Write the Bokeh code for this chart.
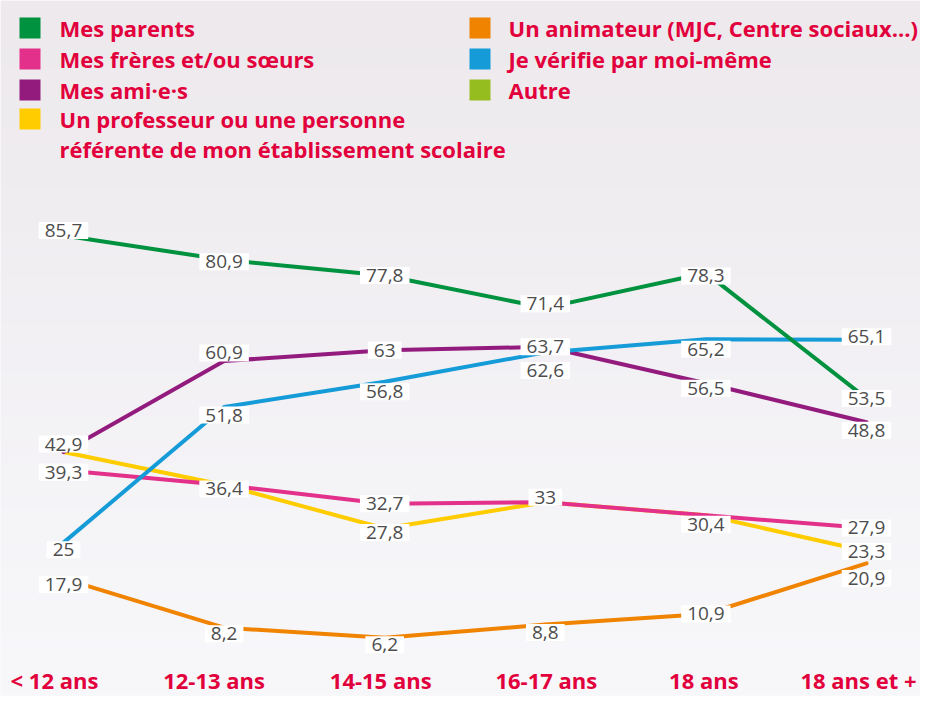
import numpy as np
from bokeh.plotting import figure
from bokeh.models import Range1d, ColumnDataSource
from bokeh.core.properties import value
from bokeh.embed import file_html
from bokeh.resources import INLINE

# ---------------- data ----------------
categories = ["< 12 ans", "12-13 ans", "14-15 ans", "16-17 ans", "18 ans", "18 ans et +"]

parents = [85.7, 80.9, 77.8, 71.4, 78.3, 53.5]
freres_soeurs = [39.3, 36.4, 32.7, 33.0, 30.4, 27.9]
amis = [42.9, 60.9, 63.0, 63.7, 56.5, 48.8]
professeur = [42.9, 36.4, 27.8, 33.0, 30.4, 23.3]
animateur = [17.9, 8.2, 6.2, 8.8, 10.9, 20.9]
moi_meme = [25.0, 51.8, 56.8, 62.6, 65.2, 65.1]
autre = []  # no values drawn in the chart

series_names = [
    "Mes parents",
    "Mes frères et/ou sœurs",
    "Mes ami·e·s",
    "Un professeur ou une personne\nréférente de mon établissement scolaire",
    "Un animateur (MJC, Centre sociaux...)",
    "Je vérifie par moi-même",
    "Autre",
]
series_values = [parents, freres_soeurs, amis, professeur, animateur, moi_meme, autre]

# ---------------- styles ----------------
colors = ["#00923f", "#e3308a", "#931b7e", "#ffcc00", "#f08300", "#159bd7", "#95bd1f"]
# which points carry a value label (shared values are labelled once)
label_shown = [
    [1, 1, 1, 1, 1, 1],
    [1, 1, 1, 1, 1, 1],
    [1, 1, 1, 1, 1, 1],
    [0, 0, 1, 0, 0, 1],
    [1, 1, 1, 1, 1, 1],
    [1, 1, 1, 1, 1, 1],
    [],
]
# vertical nudge of the value labels (screen px, down positive)
label_dy = [
    [-5, 2, 0, -4, 3, 0],
    [2, 4, 0, -5, 9, 0],
    [-8, -8, 0, 0, 5, 8],
    [0, 0, 4, 0, 0, 0],
    [6, 6, 7, 8, 0, 15],
    [7, 8, 10, 18, 10, -3],
    [],
]
draw_order = [4, 3, 1, 2, 5, 0]

RED = "#e2003c"
W, H = 920, 696
XS, X0 = 160.6, 63.0      # px per category, px of first category
YS, YREF, VREF = 5.06, 235.0, 85.7   # px per unit, px row of reference value


def fx(px):
    return (px - X0) / XS


def fy(py):
    return VREF + (YREF - py) / YS


p = figure(
    width=W, height=H,
    x_range=Range1d(fx(0), fx(W)), y_range=Range1d(fy(H), fy(0)),
    output_backend="svg", toolbar_location=None,
    x_axis_location=None, y_axis_location=None,
    min_border=0,
)
p.grid.visible = False
p.outline_line_color = None
p.background_fill_color = "#f8f8fb"
p.border_fill_color = "#f8f8fb"

# background gradient
N = 256
img = np.empty((N, 1), dtype=np.uint32)
view = img.view(dtype=np.uint8).reshape((N, 1, 4))
top = np.array([237, 233, 237])
bot = np.array([248, 248, 251])
for i in range(N):
    t = i / (N - 1)
    c = bot + (top - bot) * t
    view[i, 0, 0:3] = c.astype(np.uint8)
    view[i, 0, 3] = 255
p.image_rgba(image=[img], x=fx(0), y=fy(H), dw=fx(W) - fx(0), dh=fy(0) - fy(H))

xs = list(range(len(categories)))

# lines
for k in draw_order:
    p.line(xs, series_values[k], line_color=colors[k], line_width=4,
           line_join="round", line_cap="round")

# value labels
lx, ly, lt, ldy = [], [], [], []
for k in range(len(series_values)):
    for i, v in enumerate(series_values[k]):
        if label_shown[k][i]:
            lx.append(i)
            ly.append(v)
            s = ("%.1f" % v).replace(".", ",")
            if s.endswith(",0"):
                s = s[:-2]
            lt.append(s)
            ldy.append(label_dy[k][i])
src = ColumnDataSource(dict(x=lx, y=ly, text=lt, dy=ldy))
p.text(x="x", y="y", text="text", y_offset="dy", source=src,
       text_font=value("Open Sans"), text_font_size="19px", text_color="#4d4d4d",
       text_align="center", text_baseline="middle",
       background_fill_color="white", padding=dict(x=6, y=2))

# category labels
cat_dx = [-9, -10, -4, 1, -2, -8]
p.text(x=xs, y=[fy(679)] * len(xs), text=categories, x_offset=cat_dx,
       text_font=value("Open Sans"), text_font_size="22px", text_font_style="bold",
       text_color=RED, text_align="center", text_baseline="middle")

# legend
leg_sq_x = [29.5, 29.5, 29.5, 29.5, 479.5, 479.5, 479.5]
leg_y = [27.5, 58.5, 89.5, 118.5, 27.5, 58.5, 89.5]
leg_tx = [59, 59, 59, 59, 508, 508, 508]
p.scatter([fx(v) for v in leg_sq_x], [fy(v) for v in leg_y], marker="square",
          size=21, fill_color=colors, line_color=None)
for k, name in enumerate(series_names):
    ty = leg_y[k] if "\n" not in name else leg_y[k] + 15
    p.text(x=[fx(leg_tx[k])], y=[fy(ty)], text=[name],
           text_font=value("Open Sans"), text_font_size="22px", text_font_style="bold",
           text_color=RED, text_align="left", text_baseline="middle",
           text_line_height=0.98)

open("out.html", "w").write(file_html(p, INLINE))
